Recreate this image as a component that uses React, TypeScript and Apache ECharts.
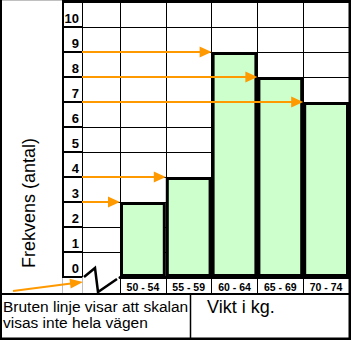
import { useEffect, useRef } from "react";
import * as echarts from "echarts";

// ---- data ----
const categories = ["50 - 54", "55 - 59", "60 - 64", "65 - 69", "70 - 74"];
const frequencies = [3, 4, 9, 8, 7];
const yMin = 0;
const yMax = 11;
const yLabelMax = 10;
const yTitle = "Frekvens (antal)";
const xTitle = "Vikt i kg.";
const noteLines = ["Bruten linje visar att skalan", "visas inte hela vägen"];

// ---- layout / style ----
const W = 351;
const H = 340;
const BREAK_W = 38;
const ORANGE = "#FF9900";
const GREEN = "#CCFFCC";
const FONT = "'Liberation Sans', Arial, sans-serif";

export default function App() {
  const ref = useRef<HTMLDivElement>(null);

  useEffect(() => {
    if (!ref.current) return;
    const chart = echarts.init(ref.current, undefined, { renderer: "svg" });

    const option: any = {
      animation: false,
      backgroundColor: "#fff",
      grid: [
        { left: 120, top: 2, width: 229, height: 275 },
        { left: 82, top: 2, width: BREAK_W, height: 250 },
      ],
      xAxis: [
        {
          gridIndex: 0,
          type: "category",
          data: categories,
          boundaryGap: true,
          axisLine: { show: true, lineStyle: { color: "#000", width: 3 } },
          axisTick: { show: true, interval: 0, length: 16, lineStyle: { color: "#000", width: 1 } },
          axisLabel: {
            interval: 0,
            margin: 2,
            fontSize: 10.5,
            fontWeight: "bold",
            fontFamily: FONT,
            color: "#000",
            lineHeight: 16,
          },
          splitLine: { show: true, interval: 0, lineStyle: { color: "#000", width: 1 } },
        },
        { gridIndex: 1, type: "value", min: 0, max: 1, show: false },
      ],
      yAxis: [
        {
          gridIndex: 0,
          type: "value",
          min: yMin,
          max: yMax,
          interval: 1,
          position: "left",
          offset: BREAK_W,
          axisLine: { show: true, lineStyle: { color: "#000", width: 1 } },
          axisTick: { show: true, length: 20, lineStyle: { color: "#000", width: 2 } },
          axisLabel: {
            margin: 3,
            formatter: (v: number) => (v <= yLabelMax ? String(v) : ""),
            fontSize: 13,
            fontWeight: "bold",
            fontFamily: FONT,
            color: "#000",
            verticalAlign: "bottom",
            lineHeight: 18,
          },
          splitLine: { show: true, lineStyle: { color: "#000", width: 1 } },
        },
        {
          gridIndex: 1,
          type: "value",
          min: 1,
          max: yMax,
          interval: 1,
          axisLine: { show: false },
          axisTick: { show: false },
          axisLabel: { show: false },
          splitLine: { show: true, lineStyle: { color: "#000", width: 1 } },
        },
      ],
      series: [
        {
          type: "bar",
          xAxisIndex: 0,
          yAxisIndex: 0,
          data: frequencies,
          barCategoryGap: "0%",
          barGap: "0%",
          itemStyle: { color: GREEN, borderColor: "#000", borderWidth: 3 },
          z: 3,
        },
        {
          type: "custom",
          xAxisIndex: 0,
          yAxisIndex: 0,
          clip: false,
          z: 5,
          data: frequencies.map((v, i) => [i, v]),
          renderItem: (params: any, api: any) => {
            const i = api.value(0);
            const v = api.value(1);
            const p = api.coord([i, v]);
            const band = api.size([1, 0])[0];
            const endX = p[0] - band / 2;
            const startX = params.coordSys.x - BREAK_W;
            return {
              type: "group",
              children: [
                {
                  type: "line",
                  shape: { x1: startX, y1: p[1], x2: endX - 10, y2: p[1] },
                  style: { stroke: ORANGE, lineWidth: 2 },
                },
                {
                  type: "polygon",
                  shape: { points: [[endX, p[1]], [endX - 12, p[1] - 5.5], [endX - 12, p[1] + 5.5]] },
                  style: { fill: ORANGE },
                },
              ],
            };
          },
        },
      ],
      graphic: [
        // table frame
        { type: "line", z: 10, shape: { x1: 0, y1: 0.5, x2: 62, y2: 0.5 }, style: { stroke: "#c0c0c0", lineWidth: 1 } },
        { type: "line", z: 10, shape: { x1: 62, y1: 1.3, x2: W, y2: 1.3 }, style: { stroke: "#000", lineWidth: 2.6 } },
        { type: "line", z: 10, shape: { x1: 1, y1: 0, x2: 1, y2: H }, style: { stroke: "#000", lineWidth: 2 } },
        { type: "line", z: 10, shape: { x1: 349.8, y1: 0, x2: 349.8, y2: H }, style: { stroke: "#000", lineWidth: 2.6 } },
        { type: "line", z: 10, shape: { x1: 0, y1: 338.8, x2: W, y2: 338.8 }, style: { stroke: "#000", lineWidth: 2.6 } },
        { type: "line", z: 10, shape: { x1: 63, y1: 2, x2: 63, y2: 277 }, style: { stroke: "#000", lineWidth: 2 } },
        { type: "line", z: 10, shape: { x1: 62.5, y1: 278, x2: 62.5, y2: 293 }, style: { stroke: "#c0c0c0", lineWidth: 1 } },
        { type: "line", z: 10, shape: { x1: 82.5, y1: 278, x2: 82.5, y2: 293 }, style: { stroke: "#c0c0c0", lineWidth: 1 } },
        { type: "line", z: 10, shape: { x1: 0, y1: 294, x2: W, y2: 294 }, style: { stroke: "#000", lineWidth: 2 } },
        { type: "line", z: 10, shape: { x1: 190.5, y1: 294, x2: 190.5, y2: H }, style: { stroke: "#000", lineWidth: 1.5 } },
        // broken-axis zigzag
        {
          type: "polyline",
          z: 10,
          shape: { points: [[84, 277], [95, 268], [98, 292], [117, 279]] },
          style: { stroke: "#000", lineWidth: 2.5, fill: null },
        },
        // pointer arrow to the zigzag
        { type: "line", z: 10, shape: { x1: 13, y1: 291, x2: 71, y2: 283.6 }, style: { stroke: ORANGE, lineWidth: 2 } },
        {
          type: "polygon",
          z: 10,
          shape: { points: [[83, 282], [70.7, 288.6], [69.5, 278.7]] },
          style: { fill: ORANGE },
        },
        // texts
        {
          type: "text",
          z: 10,
          x: 28.5,
          y: 203,
          rotation: Math.PI / 2,
          style: { text: yTitle, font: `18px ${FONT}`, fill: "#000", align: "center", verticalAlign: "middle" },
        },
        {
          type: "text",
          z: 10,
          x: 3,
          y: 298,
          style: {
            text: noteLines.join("\n"),
            font: `15.5px ${FONT}`,
            lineHeight: 16,
            fill: "#000",
            align: "left",
            verticalAlign: "top",
          },
        },
        {
          type: "text",
          z: 10,
          x: 207,
          y: 306.5,
          style: { text: xTitle, font: `18px ${FONT}`, fill: "#000", align: "left", verticalAlign: "middle" },
        },
      ],
    };

    chart.setOption(option);
    return () => chart.dispose();
  }, []);

  return (
    <div
      ref={ref}
      style={{ position: "fixed", left: 0, top: 0, width: W, height: H, background: "#fff" }}
    />
  );
}
